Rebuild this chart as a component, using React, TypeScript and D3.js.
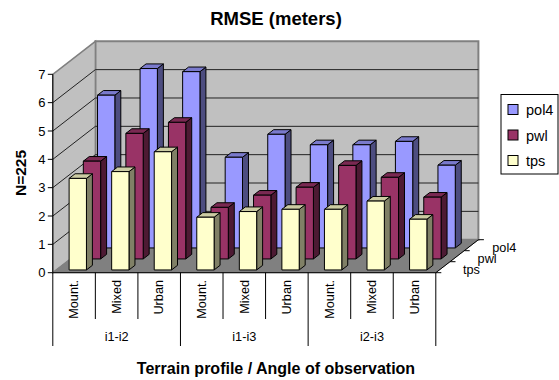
import React from "react";
import * as d3 from "d3";

const terrains = ["Mount.", "Mixed", "Urban"];
const angles = ["i1-i2", "i1-i3", "i2-i3"];
const categories = ["0", "1", "2", "3", "4", "5", "6", "7", "8"];
const yTicks = [0, 1, 2, 3, 4, 5, 6, 7];
const seriesNames = ["tps", "pwl", "pol4"];
const tpsValues = [3.23, 3.47, 4.17, 1.86, 2.06, 2.14, 2.14, 2.43, 1.79];
const pwlValues = [3.45, 4.43, 4.82, 1.82, 2.25, 2.53, 3.3, 2.88, 2.18];
const pol4Values = [5.39, 6.33, 6.22, 3.2, 4.01, 3.64, 3.64, 3.76, 2.92];
const seriesValues = [tpsValues, pwlValues, pol4Values];

const faceColors: Record<string, { front: string; side: string; top: string }> = {
  pol4: { front: "#9999FF", side: "#4D4D80", top: "#7A7ACC" },
  pwl: { front: "#993366", side: "#4D1A33", top: "#7A2952" },
  tps: { front: "#FFFFCC", side: "#808066", top: "#CCCCA3" },
};

const FONT = "'Liberation Sans', Arial, sans-serif";

// Oblique projection: category along x, value along y, series along depth.
const xScale = d3.scaleBand<string>().domain(categories).range([52.8, 435.8]);
const yScale = d3.scaleLinear().domain([0, 7]).range([272.7, 74.3]);
const dxScale = d3.scaleLinear().domain([0, 3]).range([0, 42.6]);
const dyScale = d3.scaleLinear().domain([0, 3]).range([0, -33]);

const project = (px: number, value: number, depth: number): [number, number] => [
  px + dxScale(depth),
  yScale(value) + dyScale(depth),
];
const poly = (pts: [number, number][]) => pts.map((p) => p.map((n) => n.toFixed(2)).join(",")).join(" ");

const BAR_START = 0.3;
const BAR_WIDTH = 0.407;
const DEPTH_START = 0.25;
const DEPTH_SIZE = 0.42;

function Bar({ cat, value, row, name }: { cat: string; value: number; row: number; name: string }) {
  const band = xScale.bandwidth();
  const x0 = xScale(cat)! + band * BAR_START;
  const x1 = x0 + band * BAR_WIDTH;
  const z0 = row + DEPTH_START;
  const z1 = z0 + DEPTH_SIZE;
  const c = faceColors[name];
  const common = { stroke: "#000", strokeWidth: 1, strokeLinejoin: "round" as const };
  return (
    <g>
      <polygon
        points={poly([project(x1, 0, z0), project(x1, 0, z1), project(x1, value, z1), project(x1, value, z0)])}
        fill={c.side}
        {...common}
      />
      <polygon
        points={poly([project(x0, value, z0), project(x1, value, z0), project(x1, value, z1), project(x0, value, z1)])}
        fill={c.top}
        {...common}
      />
      <polygon
        points={poly([project(x0, 0, z0), project(x1, 0, z0), project(x1, value, z0), project(x0, value, z0)])}
        fill={c.front}
        {...common}
      />
    </g>
  );
}

export default function App() {
  const bottom = yScale(0);
  const xLeft = xScale.range()[0];
  const xRight = xScale.range()[1];
  const band = xScale.bandwidth();
  const rowOrder = [2, 1, 0];
  const legendItems = ["pol4", "pwl", "tps"];

  return (
    <svg
      width={559}
      height={380}
      style={{ position: "absolute", left: 0, top: 0, background: "#fff" }}
      fontFamily={FONT}
      fill="#000"
    >
      <text x={276} y={25} textAnchor="middle" fontSize={18.5} fontWeight="bold">
        RMSE (meters)
      </text>

      {/* walls and floor */}
      <polygon
        points={poly([project(xLeft, 0, 3), project(xRight, 0, 3), project(xRight, 7, 3), project(xLeft, 7, 3)])}
        fill="#C0C0C0"
        stroke="#808080"
        strokeWidth={2}
      />
      <polygon
        points={poly([project(xLeft, 0, 0), project(xLeft, 0, 3), project(xLeft, 7, 3), project(xLeft, 7, 0)])}
        fill="#C0C0C0"
        stroke="#808080"
        strokeWidth={1.5}
      />
      <polygon
        points={poly([project(xLeft, 0, 0), project(xRight, 0, 0), project(xRight, 0, 3), project(xLeft, 0, 3)])}
        fill="#808080"
        stroke="#808080"
      />

      {/* gridlines run along the side wall, then across the back wall */}
      {yTicks.slice(1, -1).map((t) => (
        <polyline
          key={t}
          points={poly([project(xLeft, t, 0), project(xLeft, t, 3), project(xRight, t, 3)])}
          fill="none"
          stroke="#222"
          strokeWidth={1}
        />
      ))}

      {/* value axis */}
      <line x1={xLeft} x2={xLeft} y1={yScale(7)} y2={bottom} stroke="#000" />
      {yTicks.map((t) => (
        <g key={t}>
          <line x1={xLeft - 5} x2={xLeft} y1={yScale(t)} y2={yScale(t)} stroke="#000" />
          <text x={45.5} y={yScale(t) + 4.7} textAnchor="end" fontSize={13}>
            {t}
          </text>
        </g>
      ))}
      <text
        transform={`translate(26,${173}) rotate(-90)`}
        textAnchor="middle"
        fontSize={15.5}
        fontWeight="bold"
      >
        N=225
      </text>

      {/* bars, painted from the back row forward */}
      {rowOrder.map((row) => (
        <g key={row}>
          {categories.map((cat, i) => (
            <Bar key={cat} cat={cat} value={seriesValues[row][i]} row={row} name={seriesNames[row]} />
          ))}
        </g>
      ))}

      {/* series axis along the right floor edge */}
      <line x1={xRight} y1={bottom} x2={project(xRight, 0, 3)[0]} y2={project(xRight, 0, 3)[1]} stroke="#000" />
      {[0, 1, 2, 3].map((d) => {
        const [px, py] = project(xRight, 0, d);
        return <line key={d} x1={px} y1={py} x2={px + 5.5} y2={py} stroke="#000" />;
      })}
      {seriesNames.map((name, i) => {
        const [px, py] = project(xRight, 0, i + 0.5);
        return (
          <text key={name} x={px + 20 + i * 0.5} y={py + 7} fontSize={12.7}>
            {name}
          </text>
        );
      })}

      {/* category axis with its two label levels */}
      <line x1={xLeft} x2={xRight} y1={bottom} y2={bottom} stroke="#000" />
      {categories.map((cat, i) => {
        const x = xScale(cat)!;
        const groupEdge = i % 3 === 0;
        return (
          <g key={cat}>
            <line x1={x} x2={x} y1={bottom} y2={groupEdge ? 346 : 319} stroke="#000" />
            <text
              transform={`translate(${x + band / 2 + 4.3},${280}) rotate(-90)`}
              textAnchor="end"
              fontSize={12.7}
            >
              {terrains[i % 3]}
            </text>
          </g>
        );
      })}
      <line x1={xRight} x2={xRight} y1={bottom} y2={346} stroke="#000" />
      {angles.map((a, i) => (
        <text key={a} x={xScale(categories[i * 3])! + band * 1.5} y={341} textAnchor="middle" fontSize={12.7}>
          {a}
        </text>
      ))}
      <text x={276} y={374} textAnchor="middle" fontSize={16} fontWeight="bold">
        Terrain profile / Angle of observation
      </text>

      {/* legend */}
      <rect x={501} y={94.5} width={57} height={79.5} fill="#fff" stroke="#000" />
      {legendItems.map((name, i) => (
        <g key={name}>
          <rect x={508} y={104.5 + i * 25.5} width={10} height={10} fill={faceColors[name].front} stroke="#000" />
          <text x={526} y={115 + i * 25.5} fontSize={14.5}>
            {name}
          </text>
        </g>
      ))}
    </svg>
  );
}
